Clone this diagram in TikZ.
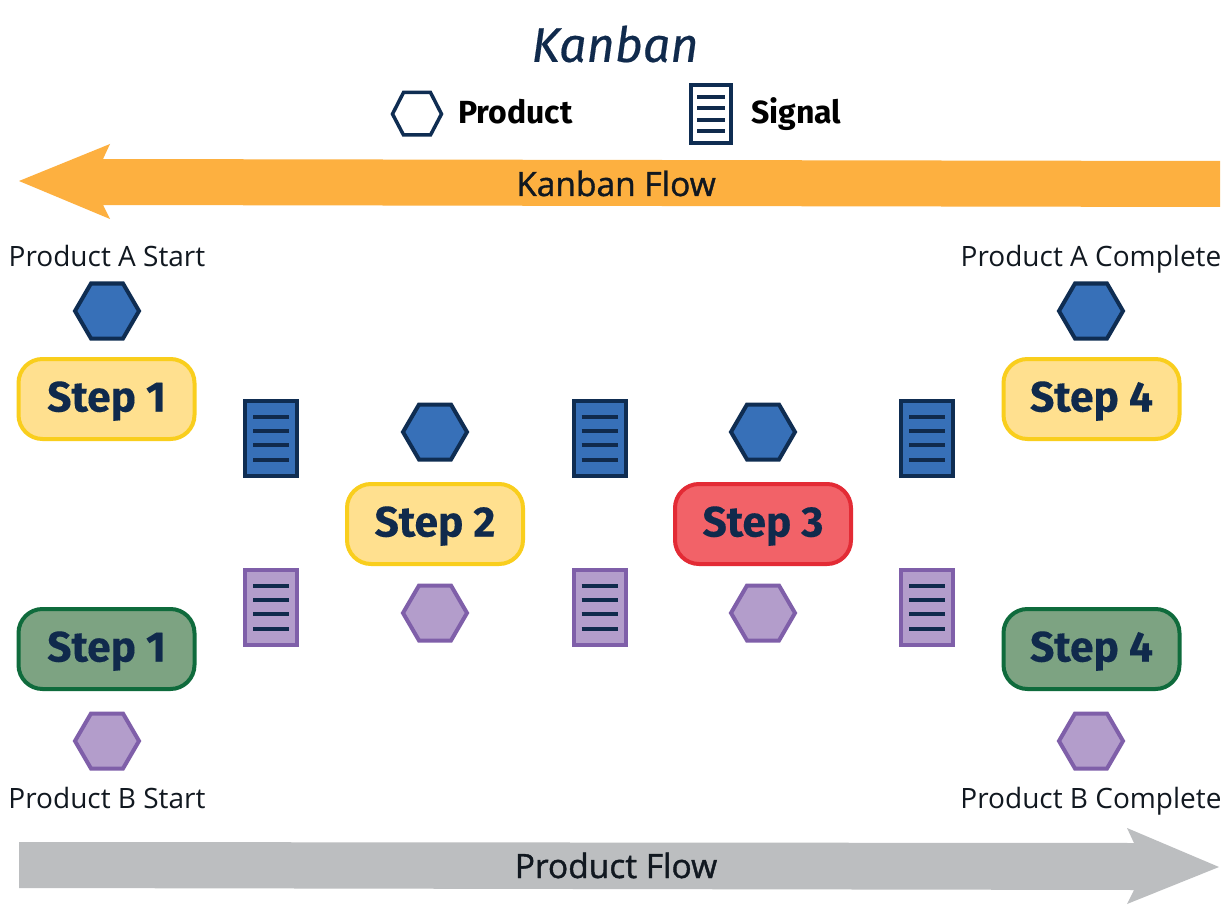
\documentclass[tikz,border=0pt]{standalone}
\usepackage{fontspec}
\setmainfont{Fira Sans}
\newfontfamily\labfont{Open Sans}
\newfontfamily\flowfont[FakeBold=1.2]{Open Sans}
\definecolor{ink}{HTML}{102A4C}
\definecolor{lab}{HTML}{111820}
\definecolor{bluef}{HTML}{3770B8}
\definecolor{blued}{HTML}{0F2D52}
\definecolor{purf}{HTML}{B39DCB}
\definecolor{purd}{HTML}{7F5FA9}
\definecolor{yelf}{HTML}{FFE08F}
\definecolor{yeld}{HTML}{F9CE1D}
\definecolor{redf}{HTML}{F26268}
\definecolor{redd}{HTML}{E32B35}
\definecolor{grnf}{HTML}{7DA382}
\definecolor{grnd}{HTML}{0F6B3C}
\definecolor{orng}{HTML}{FDB040}
\definecolor{gry}{HTML}{BCBEC0}
\tikzset{
 stepbox/.style={draw=#1d,fill=#1f,line width=4pt,rounded corners=24pt,minimum width=176pt,minimum height=80pt,inner sep=0pt,
   text height=25pt,text depth=0pt,text=ink,font=\fontsize{42.5}{44}\selectfont\bfseries\addfontfeature{FakeBold=0.25}},
 lab/.style={text=lab,font=\labfont\fontsize{28}{30}\selectfont,inner sep=0pt,text height=20pt,text depth=0pt},
 flow/.style={text=lab,font=\flowfont\fontsize{33.5}{35}\selectfont,inner sep=0pt,text height=24pt,text depth=0pt},
 legend/.style={text=black,font=\fontsize{32}{34}\selectfont\bfseries,inner sep=0pt,anchor=west,text height=22pt,text depth=0pt},
 hexa/.style={line width=4pt,line join=miter},
 docline/.style={draw=ink,line width=3.5pt}
}
\newcommand{\hexa}[3]{% x, y, colour prefix
  \draw[hexa,draw=#3d,fill=#3f] (#1-32,#2) -- (#1-16,#2-27.5) -- (#1+16,#2-27.5) -- (#1+32,#2) -- (#1+16,#2+27.5) -- (#1-16,#2+27.5) -- cycle;}
\newcommand{\docu}[3]{% left x, top y, colour prefix
  \draw[line width=4pt,draw=#3d,fill=#3f] (#1,#2) rectangle (#1+52,#2+75);
  \foreach \dy in {16,30,44,59}{\draw[docline] (#1+8,#2+\dy) -- (#1+44,#2+\dy);}}
\begin{document}
\begin{tikzpicture}[x=1pt,y=-1pt]
\useasboundingbox (0,0) rectangle (1232,920);
\fill[white] (0,0) rectangle (1232,920);
\node[text=ink,font=\fontsize{48.5}{50}\selectfont\itshape\addfontfeature{FakeBold=0.4},inner sep=0pt] (title) at (615,44) {Kanban};
% legend
\draw[line width=3.5pt,draw=blued,fill=white] (392.5,114) -- (403.5,92.5) -- (430.5,92.5) -- (441.5,114) -- (430.5,135) -- (403.5,135) -- cycle;
\node[legend] (lp) at (458,113) {Product};
\draw[line width=3.5pt,draw=blued,fill=white] (691,85) rectangle (731,143);
\foreach \yy in {97,108,120,131}{\draw[docline] (697,\yy) -- (725,\yy);}
\node[legend] (ls) at (751,113) {Signal};
% arrows
\fill[orng] (19,181) -- (110,144) -- (103,159) -- (1220,161) -- (1220,207) -- (103,205) -- (110,219) -- cycle;
\node[flow] (kf) at (616,184) {Kanban Flow};
\fill[gry] (1219,867) -- (1127,828) -- (1134,843) -- (19,842) -- (19,888) -- (1134,890) -- (1127,904) -- cycle;
\node[flow] (pf) at (616,866) {Product Flow};
% labels
\node[lab] (a1) at (107,257) {Product A Start};
\node[lab] (a2) at (1091,257) {Product A Complete};
\node[lab] (b1) at (107,798) {Product B Start};
\node[lab] (b2) at (1091,798) {Product B Complete};
% steps
\node[stepbox=yel] (s1) at (106.5,399) {Step 1};
\node[stepbox=yel] (s4) at (1091.5,399) {Step 4};
\node[stepbox=yel] (s2) at (435,524) {Step 2};
\node[stepbox=red] (s3) at (763,524) {Step 3};
\node[stepbox=grn] (g1) at (106.5,649) {Step 1};
\node[stepbox=grn] (g4) at (1091.5,649) {Step 4};
% hexagons
\hexa{107}{311}{blue}
\hexa{1091}{311}{blue}
\hexa{435}{432}{blue}
\hexa{763}{432}{blue}
\hexa{435}{613}{pur}
\hexa{763}{613}{pur}
\hexa{107}{741}{pur}
\hexa{1091}{741}{pur}
% signals
\docu{245}{401}{blue}
\docu{573.5}{401}{blue}
\docu{901}{401}{blue}
\docu{245}{570}{pur}
\docu{573.5}{570}{pur}
\docu{901}{570}{pur}
\end{tikzpicture}
\end{document}
